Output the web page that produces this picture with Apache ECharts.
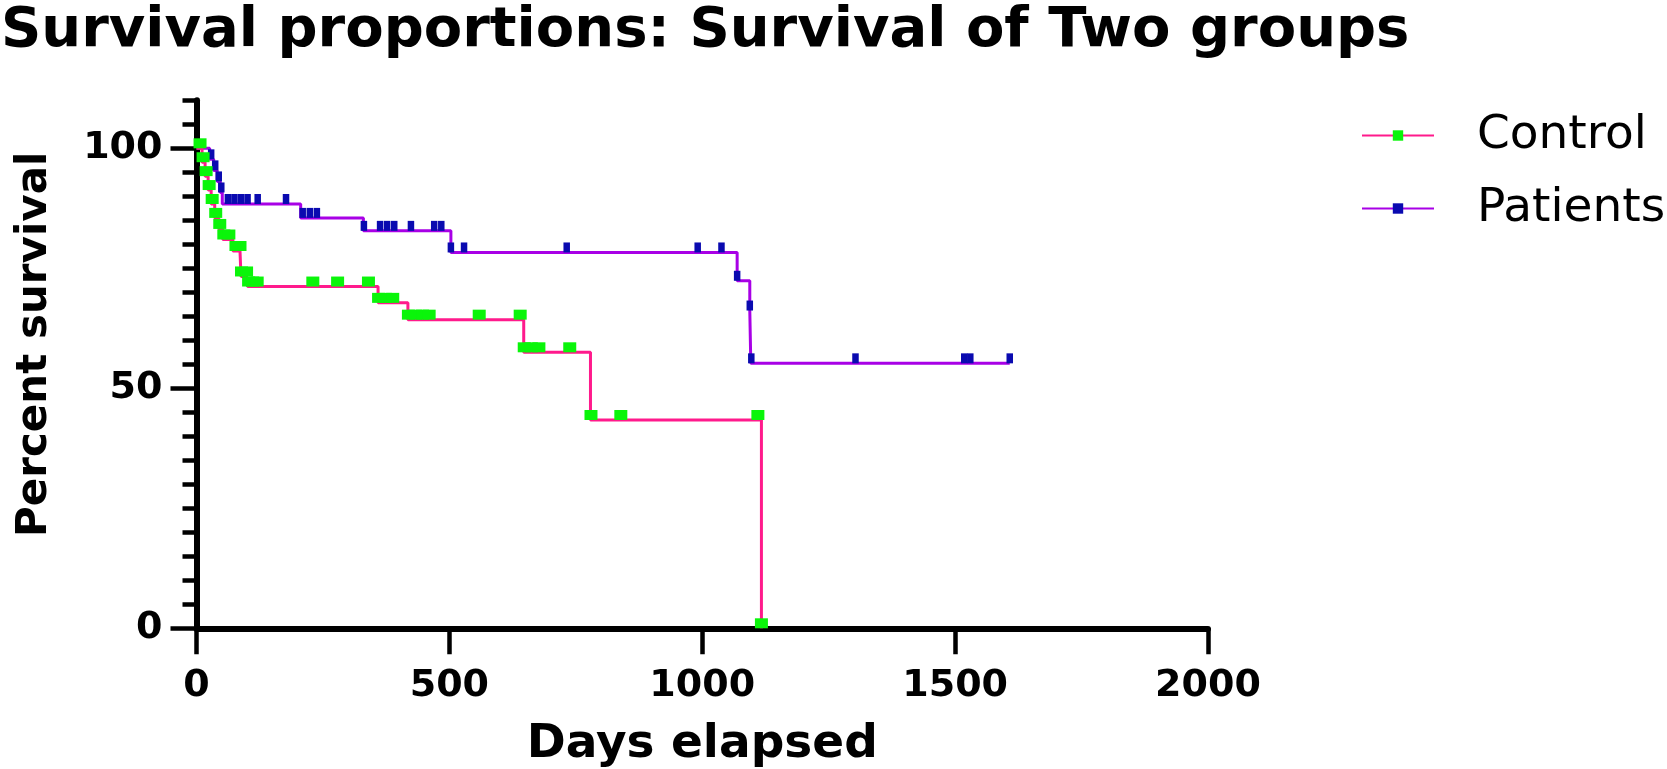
<!DOCTYPE html>
<html>
<head>
<meta charset="utf-8">
<script src="https://cdn.jsdelivr.net/npm/echarts@6/dist/echarts.min.js"></script>
<style>
html,body{margin:0;padding:0;background:#ffffff;}
#chart{width:1667px;height:769px;}
</style>
</head>
<body>
<div id="chart"></div>
<script>
// ---- Data ----
const titleText = 'Survival proportions: Survival of Two groups';
const groupNames = ['Control', 'Patients'];

// Kaplan-Meier step points [day, percent survival]
const controlSteps = [
  [0,100],[11,97.1],[17,94.2],[23,91.3],[29,88.4],[36,85.5],[44,83.2],[52,81.0],
  [72,78.6],[88,73.3],[101,71.2],[359,67.8],[418,64.3],[647,57.5],[779,43.4],[1117,0]
];
// censored subjects (tick marks) [day, percent survival]
const controlCensored = [
  [7,100],[13,97.1],[19,94.2],[25,91.3],[31,88.4],[38,85.5],[46,83.2],[54,81.0],[64,81.0],
  [78,78.6],[86,78.6],[89,73.3],[99,73.3],[103,71.2],[111,71.2],[120,71.2],
  [230,71.2],[279,71.2],[340,71.2],[360,67.8],[374,67.8],[388,67.8],
  [419,64.3],[433,64.3],[447,64.3],[460,64.3],[559,64.3],[640,64.3],
  [648,57.5],[662,57.5],[677,57.5],[738,57.5],[780,43.4],[839,43.4],[1110,43.4],[1117,0]
];

const patientsSteps = [
  [0,100],[26,97.7],[34,95.4],[41,93.1],[47,90.8],[51,88.4],[206,85.5],[330,82.8],
  [503,78.3],[1069,72.4],[1094,66.2],[1096,55.2],[1608,55.2]
];
const patientsCensored = [
  [29,97.7],[37,95.4],[44,93.1],[49,90.8],[62,88.4],[75,88.4],[88,88.4],[101,88.4],[121,88.4],[177,88.4],
  [210,85.5],[224,85.5],[238,85.5],
  [331,82.8],[363,82.8],[377,82.8],[391,82.8],[424,82.8],[470,82.8],[484,82.8],
  [503,78.3],[529,78.3],[732,78.3],[991,78.3],[1038,78.3],
  [1069,72.4],[1094,66.2],[1097,55.2],[1303,55.2],[1518,55.2],[1530,55.2],[1608,55.2]
];

const xTickValues = [0,500,1000,1500,2000];
const yLabelValues = [0,50,100];

// ---- Build line data: steps without symbol, censored with symbol ----
function buildSeriesData(steps, censored) {
  const items = [];
  steps.forEach(p => items.push({value: p, symbol: 'none'}));
  censored.forEach(p => items.push({value: p}));
  items.sort((a, b) => (a.value[0] - b.value[0]) || (b.value[1] - a.value[1]));
  return items;
}

const FONT = 'DejaVu Sans';
const plainNumber = v => String(v);
const chart = echarts.init(document.getElementById('chart'), null, {renderer: 'canvas'});

const option = {
  backgroundColor: '#ffffff',
  animation: false,
  title: {
    text: titleText,
    left: 1,
    top: 3,
    padding: 0,
    textStyle: {fontFamily: FONT, fontWeight: 'bold', fontSize: 56, color: '#000'}
  },
  legend: {
    orient: 'vertical',
    left: 1361,
    top: 112,
    padding: 0,
    itemWidth: 72,
    itemHeight: 13,
    itemGap: 26,
    data: groupNames,
    textStyle: {fontFamily: FONT, fontSize: 47, color: '#000', padding: [0, 0, 0, 38]}
  },
  grid: {
    left: 196.5,
    right: 459,
    top: 100.3,
    bottom: 140.7,
    containLabel: false,
    outerBoundsMode: 'none'
  },
  xAxis: {
    type: 'value',
    min: 0,
    max: 2000,
    interval: 500,
    name: 'Days elapsed',
    nameLocation: 'middle',
    nameGap: 93,
    nameTextStyle: {fontFamily: FONT, fontWeight: 'bold', fontSize: 47, color: '#000'},
    axisLine: {show: true, onZero: false, lineStyle: {color: '#000', width: 6}},
    axisTick: {show: true, length: 26, customValues: xTickValues, lineStyle: {color: '#000', width: 4.5}},
    axisLabel: {show: true, customValues: xTickValues, formatter: plainNumber, margin: 39, fontFamily: FONT, fontWeight: 'bold', fontSize: 38, color: '#000'},
    splitLine: {show: false}
  },
  yAxis: [
    {
      type: 'value',
      min: 0,
      max: 110,
      interval: 5,
      position: 'left',
      name: 'Percent survival',
      nameLocation: 'middle',
      nameGap: 140,
      nameTextStyle: {fontFamily: FONT, fontWeight: 'bold', fontSize: 42, color: '#000', padding: [0, 0, 0, 40]},
      axisLine: {show: true, onZero: false, lineStyle: {color: '#000', width: 6}},
      axisTick: {show: true, length: 14, lineStyle: {color: '#000', width: 4.5}},
      axisLabel: {show: true, customValues: yLabelValues, formatter: plainNumber, margin: 34, fontFamily: FONT, fontWeight: 'bold', fontSize: 38, color: '#000'},
      splitLine: {show: false}
    },
    {
      type: 'value',
      min: 0,
      max: 110,
      interval: 5,
      position: 'left',
      axisLine: {show: false, onZero: false},
      axisTick: {show: true, length: 26, customValues: yLabelValues, lineStyle: {color: '#000', width: 4.5}},
      axisLabel: {show: false},
      splitLine: {show: false}
    }
  ],
  series: [
    {
      name: 'Patients',
      type: 'line',
      step: 'end',
      yAxisIndex: 0,
      data: buildSeriesData(patientsSteps, patientsCensored),
      showSymbol: true,
      showAllSymbol: true,
      symbol: 'rect',
      symbolSize: [6.5, 10],
      symbolOffset: [0, -5],
      clip: false,
      lineStyle: {color: '#a800e6', width: 3},
      itemStyle: {color: '#0a0ab0', borderWidth: 0},
      emphasis: {disabled: true},
      z: 2
    },
    {
      name: 'Control',
      type: 'line',
      step: 'end',
      yAxisIndex: 0,
      data: buildSeriesData(controlSteps, controlCensored),
      showSymbol: true,
      showAllSymbol: true,
      symbol: 'rect',
      symbolSize: [13, 10],
      symbolOffset: [0, -5],
      clip: false,
      lineStyle: {color: '#ff1a8c', width: 3},
      itemStyle: {color: '#0af50a', borderWidth: 0},
      emphasis: {disabled: true},
      z: 3
    }
  ]
};
chart.setOption(option);
</script>
</body>
</html>
